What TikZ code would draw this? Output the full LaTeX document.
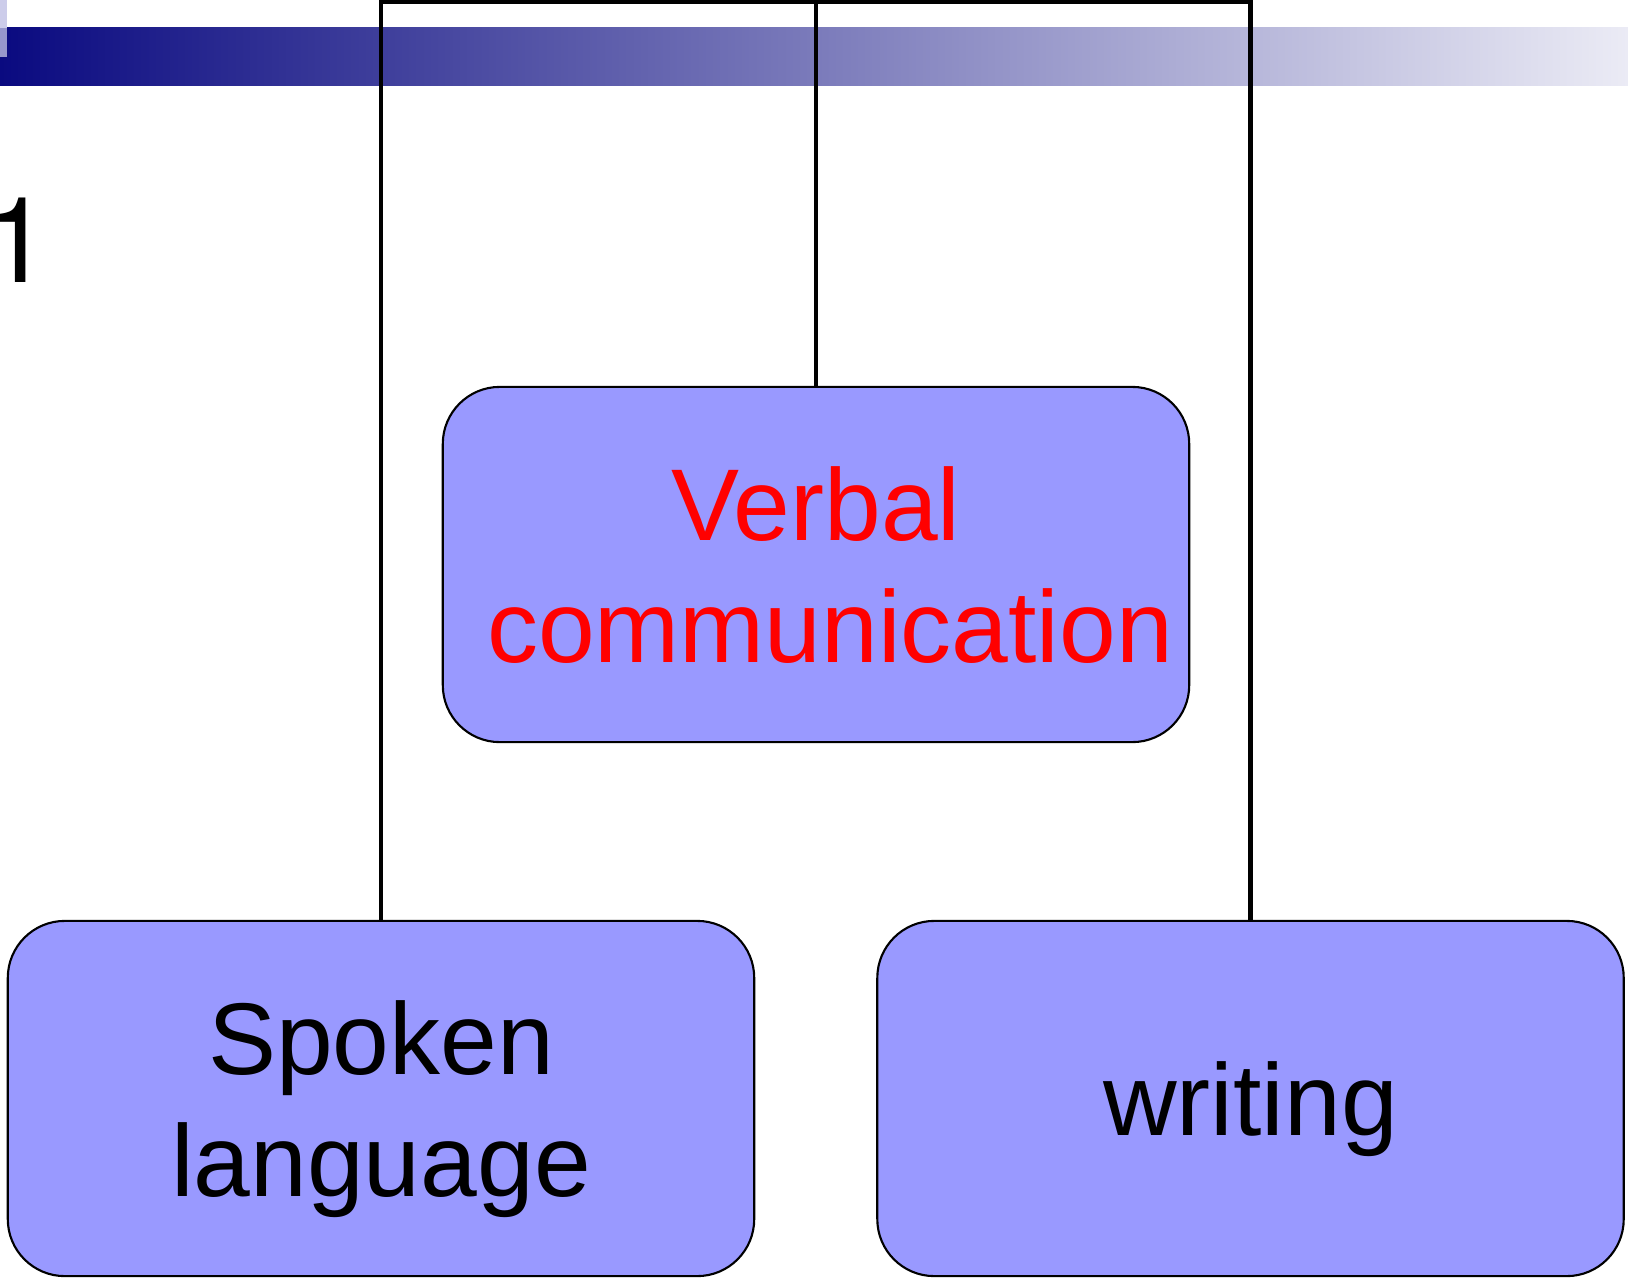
\documentclass[tikz,border=0pt]{standalone}
\usepackage{fontspec}
\setmainfont{Liberation Sans}
\newfontfamily\numfont{TeX Gyre Heros}
\definecolor{boxfill}{RGB}{153,153,255}
\definecolor{barleft}{RGB}{10,10,128}
\definecolor{barright}{RGB}{235,235,245}
\definecolor{sqtop}{RGB}{204,204,234}
\definecolor{sqbot}{RGB}{150,150,204}
\begin{document}
\begin{tikzpicture}[x=0.01cm,y=-0.01cm,
  boxnode/.style={draw=black,line width=0.6pt,fill=boxfill,rounded corners=0.57cm,
    minimum width=7.46cm,minimum height=3.55cm,inner sep=0pt,align=center,text depth=0pt,
    font=\fontsize{29}{34.6}\selectfont},
  conn/.style={draw=black,line width=1.3pt,line join=miter}]
\useasboundingbox (0,0) rectangle (1628,1279);
% header bar
\shade[left color=barleft,right color=barright] (0,28) rectangle (1628,86);
\fill[sqtop] (0,0) rectangle (7,28);
\fill[sqbot] (0,28) rectangle (7,57);
% number
\node[anchor=base west,inner sep=0pt,font=\numfont\fontsize{33.9}{40}\selectfont] (num) at (-16,282) {1};
% boxes
\node[boxnode] (verbal) at (816,564.5) {\textcolor{red}{Verbal}\\\hspace*{0.28cm}\textcolor{red}{communication}};
\node[boxnode] (spoken) at (381,1098.5) {Spoken\\language};
\node[boxnode] (writing) at (1250.5,1098.5) {writing};
% connectors
\coordinate (tl) at (381,2);
\coordinate (tm) at (816,2);
\coordinate (tr) at (1250.5,2);
\draw[conn] (spoken.north) -- (tl) -- (tr) -- (writing.north);
\draw[conn] (tm) -- (verbal.north);
\end{tikzpicture}
\end{document}
